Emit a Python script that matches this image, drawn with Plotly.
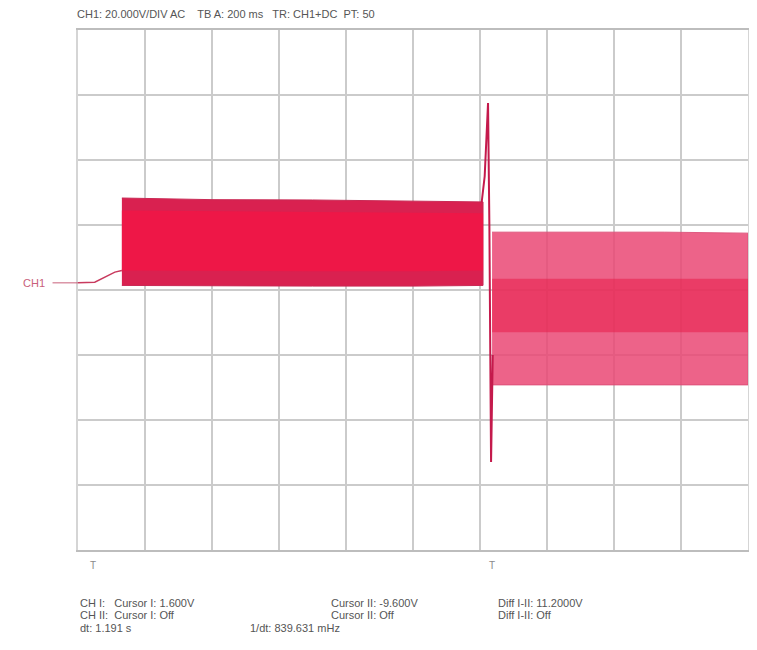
import plotly.graph_objects as go

# ---- data (time in s, voltage in V; 200 ms/div, 20 V/div) ----
baseline_t = [0.0, 0.05, 0.11, 0.131]
baseline_v = [2.2, 2.4, 5.5, 6.0]

burst1_t = [0.131, 0.40, 0.70, 1.00, 1.209]
burst1_hi = [28.3, 27.8, 27.7, 27.4, 27.1]
burst1_lo = [1.4, 1.2, 1.2, 1.2, 1.4]
burst1_edge_hi = [24.5, 24.2, 24.0, 23.8, 23.6]
burst1_edge_lo = [6.0, 5.8, 5.8, 5.8, 6.0]

spike_t = [1.205, 1.214, 1.224, 1.228, 1.233, 1.238]
spike_v = [27.0, 35.0, 57.5, 20.0, -52.9, -20.0]

band2_t = [1.236, 1.50, 1.75, 2.0]
band2_hi = [17.8, 17.8, 17.8, 17.5]
band2_lo = [-29.2, -29.2, -29.2, -29.2]
core2_hi = [3.5, 3.5, 3.5, 3.5]
core2_lo = [-13.0, -13.0, -13.0, -13.0]

cursor_t = [0.045, 1.236]

header = "CH1: 20.000V/DIV AC    TB A: 200 ms   TR: CH1+DC  PT: 50"
rows = [
    [("CH I:   Cursor I: 1.600V", 0.0), ("Cursor II: -9.600V", 0.375), ("Diff I-II: 11.2000V", 0.624)],
    [("CH II:  Cursor I: Off", 0.0), ("Cursor II: Off", 0.375), ("Diff I-II: Off", 0.624)],
    [("dt: 1.191 s", 0.0), ("1/dt: 839.631 mHz", 0.254)],
]

fig = go.Figure()

def band(t, hi, lo, color, line_color):
    fig.add_trace(go.Scatter(
        x=list(t) + list(t)[::-1], y=list(hi) + list(lo)[::-1],
        fill="toself", fillcolor=color, mode="lines",
        line=dict(color=line_color, width=1), hoverinfo="skip", showlegend=False))

fig.add_trace(go.Scatter(x=baseline_t, y=baseline_v, mode="lines",
                         line=dict(color="#c83a5e", width=1.5), showlegend=False))
band(burst1_t, burst1_hi, burst1_lo, "#d92150", "#c92a55")
band(burst1_t, burst1_edge_hi, burst1_edge_lo, "#ee1747", "rgba(0,0,0,0)")
band(band2_t, band2_hi, band2_lo, "rgba(234,72,116,0.85)", "rgba(220,80,120,0.9)")
band(band2_t, core2_hi, core2_lo, "rgba(232,30,72,0.55)", "rgba(232,30,72,0)")
fig.add_trace(go.Scatter(x=spike_t, y=spike_v, mode="lines",
                         line=dict(color="#c41a4c", width=2), showlegend=False))

font = dict(family="Liberation Sans, Arial, sans-serif", size=11, color="#555555")
ann = [dict(text=header, x=-0.004, y=1.03, xref="paper", yref="paper",
            xanchor="left", yanchor="middle", showarrow=False, font=font)]
ys = [-0.102, -0.125, -0.150]
for row, yy in zip(rows, ys):
    for txt, xx in row:
        ann.append(dict(text=txt, x=xx, y=yy, xref="paper", yref="paper",
                        xanchor="left", yanchor="middle", showarrow=False, font=font))
ch1_y = (2.2 + 80) / 160
ann.append(dict(text="CH1", x=-0.046, y=ch1_y, xref="paper", yref="paper",
                xanchor="right", yanchor="middle", showarrow=False,
                font=dict(family="Liberation Sans, Arial, sans-serif", size=11, color="#c8607a")))
for ct in cursor_t:
    ann.append(dict(text="T", x=ct, y=-0.03, xref="x", yref="paper",
                    xanchor="center", yanchor="middle", showarrow=False,
                    font=dict(family="Liberation Sans, Arial, sans-serif", size=10, color="#8a8a8a")))

fig.update_layout(
    width=749, height=642,
    margin=dict(l=70, r=7, t=22, b=100),
    paper_bgcolor="white", plot_bgcolor="white",
    annotations=ann, showlegend=False,
    shapes=[dict(type="line", xref="paper", yref="paper", x0=-0.038, x1=0.0,
                 y0=ch1_y, y1=ch1_y, line=dict(color="#c8607a", width=1))],
)
fig.update_xaxes(range=[0, 2], dtick=0.2, showticklabels=False, ticks="",
                 showgrid=True, gridcolor="#cbcbcb", gridwidth=1.5, zeroline=False,
                 showline=True, linecolor="#bdbdbd", linewidth=2, mirror=True)
fig.update_yaxes(range=[-80, 80], dtick=20, showticklabels=False, ticks="",
                 showgrid=True, gridcolor="#cbcbcb", gridwidth=1.5, zeroline=False,
                 showline=True, linecolor="#d5d5d5", linewidth=1.5, mirror=True)

fig.write_html("out.html")
